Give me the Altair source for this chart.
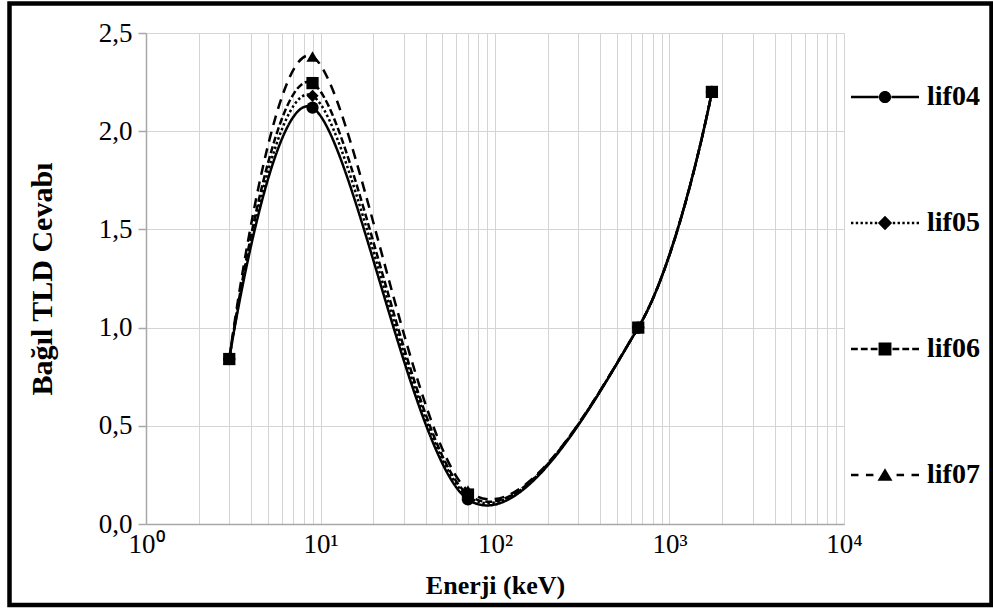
import altair as alt
import pandas as pd

# ---- data ----
energy_kev = [3, 9, 70, 662, 1750]
lif04 = [0.84, 2.12, 0.125, 1.0, 2.2]
lif05 = [0.84, 2.18, 0.14, 1.0, 2.2]
lif06 = [0.84, 2.245, 0.15, 1.0, 2.2]
lif07 = [0.84, 2.38, 0.17, 1.0, 2.2]
series_names = ["lif04", "lif05", "lif06", "lif07"]
series_values = [lif04, lif05, lif06, lif07]

x_grid_values = [m * 10 ** k for k in range(4) for m in range(1, 10)] + [10000]
x_tick_labels = {1: "10⁰", 10: "10¹", 100: "10²", 1000: "10³", 10000: "10⁴"}
y_tick_values = [0, 0.5, 1.0, 1.5, 2.0, 2.5]

rows = []
for name, vals in zip(series_names, series_values):
    for e, v in zip(energy_kev, vals):
        rows.append({"Enerji": e, "Cevap": v, "Seri": name})
df = pd.DataFrame(rows)

FONT = "Liberation Serif, Times New Roman, Times, serif"
GRID = "#d4d4d4"
AXIS = "#a8a8a8"

label_expr = " : ".join(
    f"datum.value == {k} ? '{v}'" for k, v in x_tick_labels.items()
) + " : ''"

x_enc = alt.X(
    "Enerji:Q",
    scale=alt.Scale(type="log", domain=[1, 10000]),
    axis=alt.Axis(
        title="Enerji (keV)",
        values=x_grid_values,
        labelExpr=label_expr,
        labelFont=FONT, labelFontSize=27, labelColor="black",
        labelPadding=7, labelFlush=False, labelOverlap=False,
        ticks=False, domainColor=AXIS, domainWidth=1.5,
        gridColor=GRID, gridWidth=1,
        titleFont=FONT, titleFontSize=26, titleFontWeight="bold",
        titleColor="black", titleBaseline="middle", titleY=61,
    ),
)
y_enc = alt.Y(
    "Cevap:Q",
    scale=alt.Scale(domain=[0, 2.5], nice=False, zero=True),
    axis=alt.Axis(
        title="Bağıl TLD Cevabı",
        values=y_tick_values,
        labelExpr="replace(format(datum.value, '.1f'), '.', ',')",
        labelFont=FONT, labelFontSize=27, labelColor="black",
        labelPadding=6, tickSize=8, tickColor=AXIS, tickWidth=1.5,
        domainColor=AXIS, domainWidth=1.5,
        gridColor=GRID, gridWidth=1,
        titleFont=FONT, titleFontSize=30, titleFontWeight="bold",
        titleColor="black", titleBaseline="middle", titleX=-104,
    ),
)

dash_range = [[1, 0], [2.5, 2.5], [7, 3], [10, 7]]
shape_range = ["circle", "diamond", "square", "triangle-up"]

lines = alt.Chart(df).mark_line(
    interpolate="cardinal", color="black", strokeWidth=2.5
).encode(
    x=x_enc, y=y_enc,
    strokeDash=alt.StrokeDash(
        "Seri:N", scale=alt.Scale(domain=series_names, range=dash_range), legend=None
    ),
    detail="Seri:N",
)

points = alt.Chart(df).mark_point(filled=True, color="black", opacity=1).encode(
    x="Enerji:Q", y="Cevap:Q",
    shape=alt.Shape(
        "Seri:N", scale=alt.Scale(domain=series_names, range=shape_range), legend=None
    ),
    size=alt.Size(
        "Seri:N",
        scale=alt.Scale(domain=series_names, range=[150, 150, 180, 200]),
        legend=None,
    ),
)


# ---- legend symbols: line pattern + marker, as SVG paths (unit = half width) ----
def bar(a, b, t=0.04):
    return f"M{a},{-t}H{b}V{t}H{a}Z"


def pattern(dash, gap, stop):
    segs, p = [], -1.0
    while p < -stop - 1e-9:
        e = min(p + dash, -stop)
        segs.append(bar(round(p, 3), round(e, 3)))
        segs.append(bar(round(-e, 3), round(-p, 3)))
        p += dash + gap
    return "".join(segs)


circle = "M-0.18,0A0.18,0.18 0 1,0 0.18,0A0.18,0.18 0 1,0 -0.18,0Z"
diamond = "M0,-0.21L0.21,0L0,0.21L-0.21,0Z"
square = "M-0.19,-0.19H0.19V0.19H-0.19Z"
triangle = "M0,-0.2L0.22,0.17L-0.22,0.17Z"
legend_paths = [
    bar(-1, -0.19) + bar(0.19, 1) + circle,
    pattern(0.07, 0.07, 0.22) + diamond,
    pattern(0.2, 0.09, 0.2) + square,
    pattern(0.22, 0.22, 0.24) + triangle,
]

legend_layer = alt.Chart(df).mark_point(filled=True, color="black", opacity=1).encode(
    x="Enerji:Q", y="Cevap:Q",
    shape=alt.Shape(
        "Seri:N",
        scale=alt.Scale(domain=series_names, range=legend_paths),
        legend=alt.Legend(
            title=None, orient="none", legendX=705, legendY=30,
            symbolSize=4624, symbolFillColor="black", symbolStrokeWidth=0,
            symbolOpacity=1,
            labelFont=FONT, labelFontSize=28, labelFontWeight="bold",
            labelColor="black", labelOffset=8, rowPadding=78, padding=0,
        ),
    ),
).transform_filter("false")

frame = alt.Chart(alt.Data(values=[{"f": 1}])).mark_rect(
    fill="transparent", stroke="black", strokeWidth=4.5
).encode(
    x=alt.value(-136.5), x2=alt.value(845.5), y=alt.value(-29.5), y2=alt.value(572)
)

chart = (
    alt.layer(lines, points, legend_layer, frame)
    .resolve_scale(shape="independent")
    .properties(
        width=698, height=491,
        padding={"left": 146, "top": 33, "right": 149, "bottom": 85},
        autosize=alt.AutoSizeParams(type="none"),
        background="white",
    )
    .configure_view(stroke=None)
    .configure(font=FONT)
)

chart.save("out.html", embed_options={"renderer": "svg", "actions": False})
